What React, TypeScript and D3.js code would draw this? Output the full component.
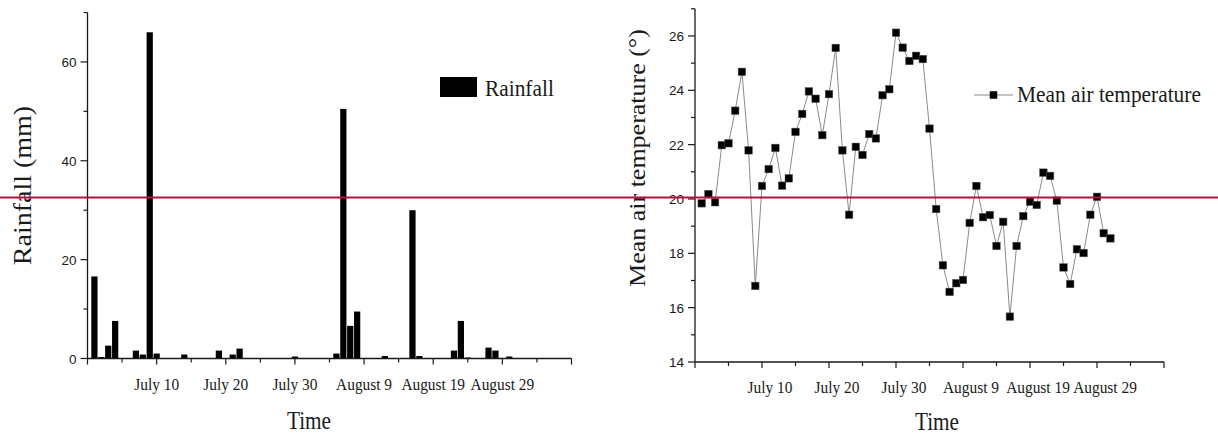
import React from "react";
import * as d3 from "d3";

// rainfall per day (day 0 = June 30), only the days that had rain
const rainDays = [1, 2, 3, 4, 7, 8, 9, 10, 14, 19, 21, 22, 30, 36, 37, 38, 39, 43, 47, 48, 53, 54, 55, 58, 59, 61];
const rainMm = [16.6, 0.3, 2.6, 7.6, 1.6, 0.8, 66, 1.0, 0.8, 1.6, 0.8, 2.0, 0.4, 1.0, 50.5, 6.6, 9.5, 0.5, 30.0, 0.5, 1.6, 7.6, 0.2, 2.2, 1.6, 0.4];

// mean air temperature, days 1..62
const tempValues = [
  19.84, 20.18, 19.88, 21.98, 22.05, 23.25, 24.68, 21.79, 16.8, 20.48,
  21.1, 21.88, 20.49, 20.76, 22.47, 23.13, 23.96, 23.69, 22.35, 23.86,
  25.56, 21.79, 19.42, 21.92, 21.62, 22.39, 22.23, 23.82, 24.04, 26.12,
  25.57, 25.08, 25.27, 25.15, 22.59, 19.63, 17.56, 16.58, 16.9, 17.02,
  19.12, 20.48, 19.33, 19.41, 18.27, 19.16, 15.67, 18.27, 19.37, 19.9,
  19.78, 20.97, 20.85, 19.94, 17.48, 16.87, 18.15, 18.01, 19.42, 20.08,
  18.74, 18.55,
];

const dateLabels = ["July 10", "July 20", "July 30", "August 9", "August 19", "August 29"];
const labelDays = [10, 20, 30, 40, 50, 60];
const rainTicks = [0, 20, 40, 60];
const tempTicks = [14, 16, 18, 20, 22, 24, 26];

const SERIF = "'Liberation Serif', 'Times New Roman', serif";
const SANS = "'Liberation Sans', Arial, sans-serif";
const INK = "#1a1a1a";

export default function App() {
  const W = 1218;
  const H = 436;

  // left chart scales
  const xL = d3.scaleLinear().domain([0, 70]).range([87.5, 571.5]);
  const yL = d3.scaleLinear().domain([0, 70]).range([358.5, 12.5]);
  // right chart scales
  const xR = d3.scaleLinear().domain([0, 70]).range([695, 1164]);
  const yR = d3.scaleLinear().domain([14, 27]).range([362, 8.8]);

  const barW = (xL(1) - xL(0)) * 0.9;
  const dayTicks = d3.range(0, 71, 5);

  const tempPts: [number, number][] = tempValues.map((v, i) => [xR(i + 1), yR(v)]);
  const line = d3.line();
  const ms = 7.5; // marker size

  const squish = (x: number, y: number, s = 0.88) => `translate(${x},${y}) scale(${s},1)`;

  return (
    <svg width={W} height={H} style={{ position: "absolute", left: 0, top: 0, background: "#fff" }}>
      {/* ---------- left: rainfall ---------- */}
      <g>
        {rainDays.map((d, i) => (
          <rect key={d} x={xL(d) - barW / 2} y={yL(rainMm[i])} width={barW}
            height={yL(0) - yL(rainMm[i])} fill="#000" />
        ))}
        <line x1={xL(0)} x2={xL(0)} y1={yL(70)} y2={yL(0)} stroke={INK} strokeWidth={1.3} />
        <line x1={xL(0)} x2={xL(70)} y1={yL(0)} y2={yL(0)} stroke={INK} strokeWidth={1.3} />
        {d3.range(0, 71, 10).map((v) => (
          <line key={v} x1={xL(0) - (v % 20 === 0 ? 7 : 4)} x2={xL(0)} y1={yL(v)} y2={yL(v)} stroke={INK} strokeWidth={1.2} />
        ))}
        {rainTicks.map((v) => (
          <text key={v} x={xL(0) - 11} y={yL(v) + 5} textAnchor="end" fontFamily={SANS} fontSize={13.5} fill={INK}>{v}</text>
        ))}
        {dayTicks.map((d) => (
          <line key={d} x1={xL(d)} x2={xL(d)} y1={yL(0)} y2={yL(0) + (d % 10 === 0 ? 6 : 4)} stroke={INK} strokeWidth={1.2} />
        ))}
        {labelDays.map((d, i) => (
          <text key={d} transform={squish(xL(d), 390)} textAnchor="middle" fontFamily={SERIF} fontSize={17.5} fill={INK}>{dateLabels[i]}</text>
        ))}
        <text transform={squish(309, 429, 0.85)} textAnchor="middle" fontFamily={SERIF} fontSize={25} fill={INK}>Time</text>
        <text transform={`translate(31,185.5) scale(0.9,1) rotate(-90)`} textAnchor="middle" fontFamily={SERIF} fontSize={28} fill={INK}>Rainfall (mm)</text>
        <rect x={440} y={77} width={37} height={20} fill="#000" />
        <text transform={squish(485, 96, 0.93)} fontFamily={SERIF} fontSize={23} fill={INK}>Rainfall</text>
      </g>

      {/* ---------- right: mean air temperature ---------- */}
      <g>
        <line x1={xR(0)} x2={xR(0)} y1={yR(27)} y2={yR(14)} stroke={INK} strokeWidth={1.3} />
        <line x1={xR(0)} x2={xR(70)} y1={yR(14)} y2={yR(14)} stroke={INK} strokeWidth={1.3} />
        {d3.range(14, 28, 1).map((v) => (
          <line key={v} x1={xR(0) - (v % 2 === 0 ? 7 : 4)} x2={xR(0)} y1={yR(v)} y2={yR(v)} stroke={INK} strokeWidth={1.2} />
        ))}
        {tempTicks.map((v) => (
          <text key={v} x={xR(0) - 11} y={yR(v) + 5} textAnchor="end" fontFamily={SANS} fontSize={13.5} fill={INK}>{v}</text>
        ))}
        {dayTicks.map((d) => (
          <line key={d} x1={xR(d)} x2={xR(d)} y1={yR(14)} y2={yR(14) + (d % 10 === 0 ? 6 : 4)} stroke={INK} strokeWidth={1.2} />
        ))}
        {labelDays.map((d, i) => (
          <text key={d} transform={squish(xR(d) + 8, 393)} textAnchor="middle" fontFamily={SERIF} fontSize={17.5} fill={INK}>{dateLabels[i]}</text>
        ))}
        <text transform={squish(937, 430, 0.85)} textAnchor="middle" fontFamily={SERIF} fontSize={25} fill={INK}>Time</text>
        <text transform={`translate(645,158) scale(0.9,1) rotate(-90)`} textAnchor="middle" fontFamily={SERIF} fontSize={26} fill={INK}>Mean air temperature (°)</text>

        <path d={line(tempPts) ?? ""} fill="none" stroke="#8a8a8a" strokeWidth={1} />
        {tempPts.map(([x, y], i) => (
          <rect key={i} x={x - ms / 2} y={y - ms / 2} width={ms} height={ms} fill="#000" stroke="#555" strokeWidth={0.5} />
        ))}

        <line x1={974} x2={1013} y1={95} y2={95} stroke="#8a8a8a" strokeWidth={1} />
        <rect x={993.5 - ms / 2} y={95 - ms / 2} width={ms} height={ms} fill="#000" />
        <text transform={squish(1017, 102, 0.93)} fontFamily={SERIF} fontSize={23} fill={INK}>Mean air temperature</text>
      </g>

      {/* crimson rule across the image */}
      <line x1={0} x2={W} y1={197.5} y2={197.5} stroke="#b5123a" strokeWidth={2} />
    </svg>
  );
}
